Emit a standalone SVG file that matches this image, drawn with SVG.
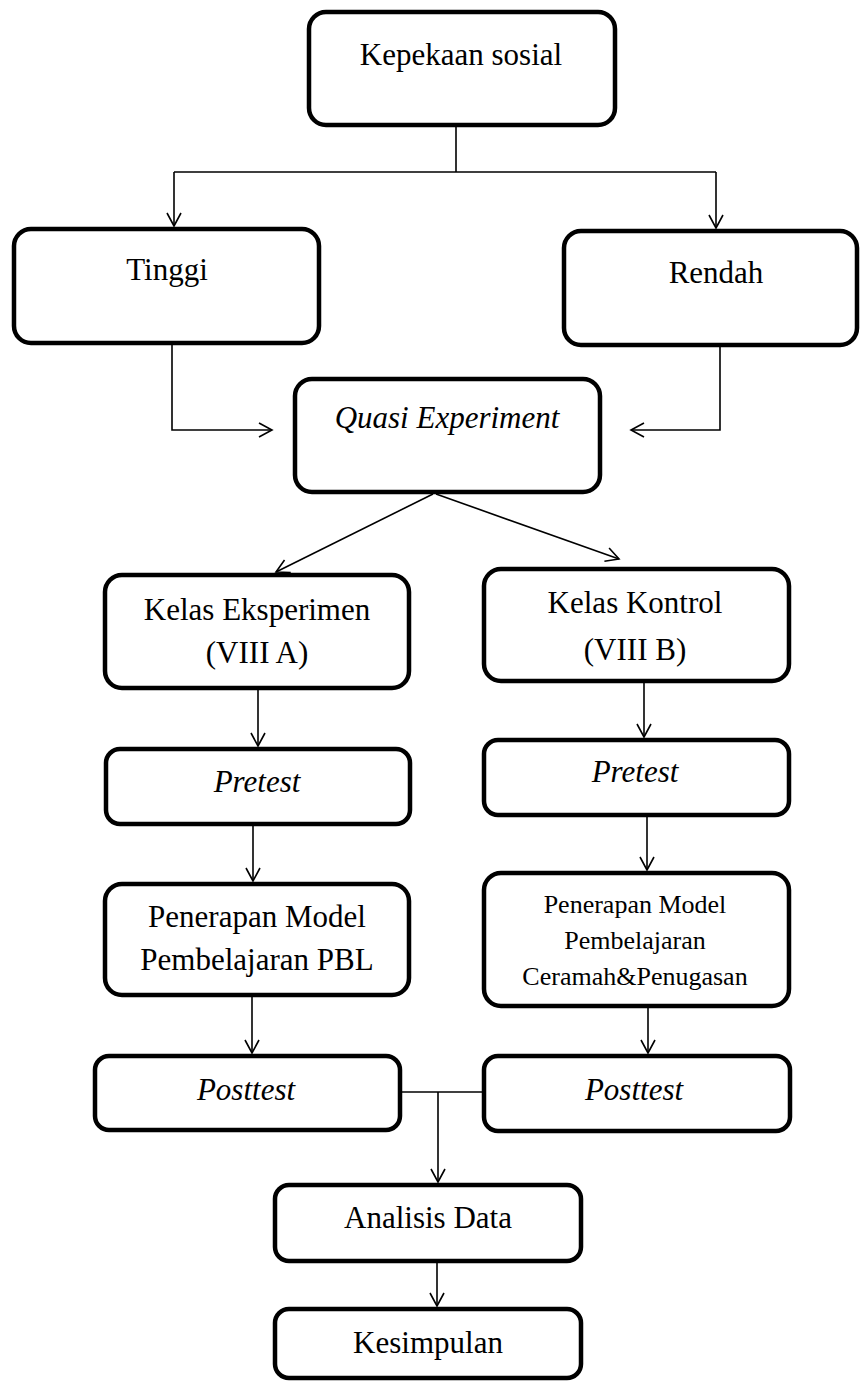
<svg xmlns="http://www.w3.org/2000/svg" width="860" height="1382" viewBox="0 0 860 1382">
<style>
.box{fill:#fff;stroke:#000;stroke-width:4.5}
text{font-family:'Liberation Serif','Times New Roman',Times,serif;font-size:31px;fill:#000;text-anchor:middle}
.s{font-size:26px}
.i{font-style:italic}
.c{fill:none;stroke:#000;stroke-width:1.6}
</style>
<defs>
<marker id="ah" viewBox="0 0 16 16" refX="14" refY="8" markerWidth="16" markerHeight="16" markerUnits="userSpaceOnUse" orient="auto">
<path d="M1,1 L14,8 L1,15" fill="none" stroke="#000" stroke-width="1.6"/>
</marker>
</defs>
<rect width="860" height="1382" fill="#fff"/>
<g id="connectors">
<path class="c" d="M456,127 V172 M174,172 H716"/>
<path class="c" d="M174,172 V226" marker-end="url(#ah)"/>
<path class="c" d="M716,172 V228" marker-end="url(#ah)"/>
<path class="c" d="M172,345 V430 H272" marker-end="url(#ah)"/>
<path class="c" d="M720,347 V430 H631" marker-end="url(#ah)"/>
<path class="c" d="M433,494 L276,572" marker-end="url(#ah)"/>
<path class="c" d="M436,494 L619,559" marker-end="url(#ah)"/>
<path class="c" d="M258,690 V746" marker-end="url(#ah)"/>
<path class="c" d="M644,683 V737" marker-end="url(#ah)"/>
<path class="c" d="M253,826 V881" marker-end="url(#ah)"/>
<path class="c" d="M647,817 V870" marker-end="url(#ah)"/>
<path class="c" d="M252,997 V1053" marker-end="url(#ah)"/>
<path class="c" d="M648,1008 V1053" marker-end="url(#ah)"/>
<path class="c" d="M402,1092 H482"/>
<path class="c" d="M438,1092 V1182" marker-end="url(#ah)"/>
<path class="c" d="M437,1263 V1306" marker-end="url(#ah)"/>
</g>
<g id="kepekaan"><rect class="box" x="309" y="12" width="306" height="113" rx="17"/><text font-family="Liberation Serif" x="461" y="65">Kepekaan sosial</text></g>
<g id="tinggi"><rect class="box" x="14" y="229" width="305" height="114" rx="17"/><text font-family="Liberation Serif" x="167" y="280">Tinggi</text></g>
<g id="rendah"><rect class="box" x="564" y="231" width="293" height="114" rx="17"/><text font-family="Liberation Serif" x="716" y="283">Rendah</text></g>
<g id="quasi"><rect class="box" x="295" y="379" width="305" height="113" rx="17"/><text class="i" font-family="Liberation Serif" x="447" y="428">Quasi Experiment</text></g>
<g id="kelasE"><rect class="box" x="105" y="575" width="304" height="113" rx="17"/><text font-family="Liberation Serif" x="257" y="620">Kelas Eksperimen</text><text font-family="Liberation Serif" x="257" y="663">(VIII A)</text></g>
<g id="kelasK"><rect class="box" x="484" y="569" width="305" height="112" rx="17"/><text font-family="Liberation Serif" x="635" y="613">Kelas Kontrol</text><text font-family="Liberation Serif" x="635" y="660">(VIII B)</text></g>
<g id="pretestE"><rect class="box" x="106" y="749" width="304" height="75" rx="14"/><text class="i" font-family="Liberation Serif" x="257" y="792">Pretest</text></g>
<g id="pretestK"><rect class="box" x="484" y="740" width="305" height="75" rx="14"/><text class="i" font-family="Liberation Serif" x="635" y="782">Pretest</text></g>
<g id="penerapanE"><rect class="box" x="105" y="884" width="304" height="111" rx="17"/><text font-family="Liberation Serif" x="257" y="927">Penerapan Model</text><text font-family="Liberation Serif" x="257" y="970">Pembelajaran PBL</text></g>
<g id="penerapanK"><rect class="box" x="484" y="873" width="305" height="133" rx="17"/><text class="s" font-family="Liberation Serif" x="635" y="913">Penerapan Model</text><text class="s" font-family="Liberation Serif" x="635" y="949">Pembelajaran</text><text class="s" font-family="Liberation Serif" x="635" y="985">Ceramah&amp;Penugasan</text></g>
<g id="posttestE"><rect class="box" x="95" y="1056" width="305" height="74" rx="14"/><text class="i" font-family="Liberation Serif" x="246" y="1100">Posttest</text></g>
<g id="posttestK"><rect class="box" x="484" y="1056" width="306" height="75" rx="14"/><text class="i" font-family="Liberation Serif" x="634" y="1100">Posttest</text></g>
<g id="analisis"><rect class="box" x="275" y="1185" width="306" height="76" rx="14"/><text font-family="Liberation Serif" x="428" y="1228">Analisis Data</text></g>
<g id="kesimpulan"><rect class="box" x="275" y="1309" width="306" height="69" rx="14"/><text font-family="Liberation Serif" x="428" y="1353">Kesimpulan</text></g>
</svg>
